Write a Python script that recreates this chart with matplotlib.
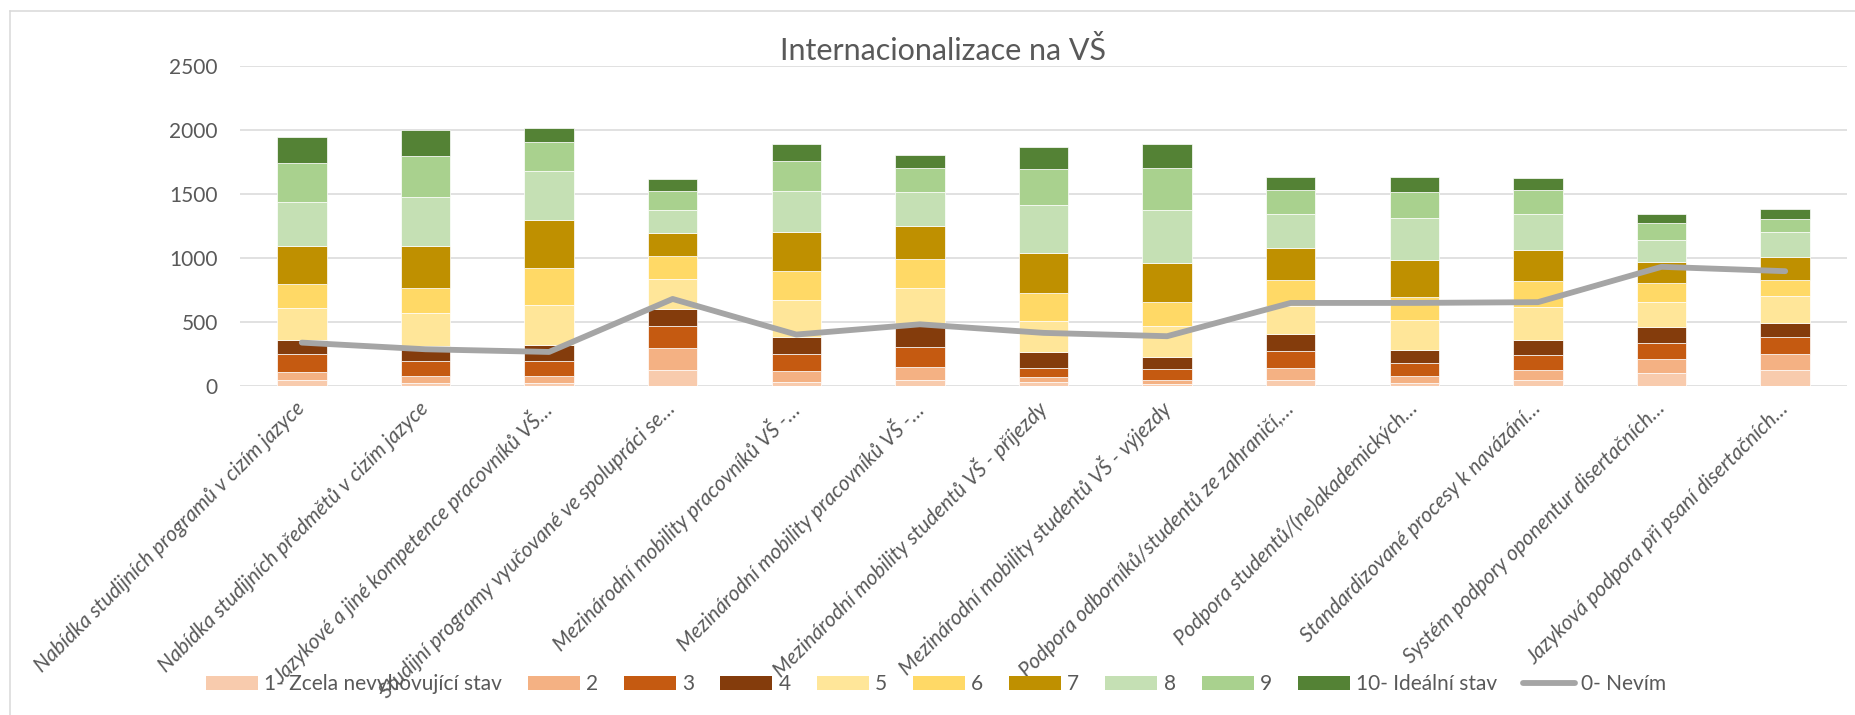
import numpy as np
import matplotlib
matplotlib.use("Agg")
import matplotlib.pyplot as plt
from matplotlib.lines import Line2D
from matplotlib.patches import Patch

plt.rcParams["font.family"] = ["Lato", "DejaVu Sans"]

# =========================
# DATA
# =========================
kategorie = [
    "Nabídka studijních programů v cizím jazyce",
    "Nabídka studijních předmětů v cizím jazyce",
    "Jazykové a jiné kompetence pracovníků VŠ…",
    "Studijní programy vyučované ve spolupráci se…",
    "Mezinárodní mobility pracovníků VŠ -…",
    "Mezinárodní mobility pracovníků VŠ -…",
    "Mezinárodní mobility studentů VŠ - příjezdy",
    "Mezinárodní mobility studentů VŠ - výjezdy",
    "Podpora odborníků/studentů ze zahraničí,…",
    "Podpora studentů/(ne)akademických…",
    "Standardizované procesy k navázání…",
    "Systém podpory oponentur disertačních…",
    "Jazyková podpora při psaní disertačních…",
]

hodnoceni_1 = [44, 23, 20, 123, 31, 44, 31, 18, 44, 23, 44, 102, 123]
hodnoceni_2 = [68, 53, 56, 174, 84, 102, 39, 29, 94, 55, 84, 109, 125]
hodnoceni_3 = [136, 117, 117, 175, 138, 159, 73, 83, 138, 105, 115, 128, 135]
hodnoceni_4 = [112, 120, 125, 133, 130, 183, 123, 97, 133, 101, 120, 125, 110]
hodnoceni_5 = [250, 256, 313, 230, 287, 276, 240, 240, 214, 230, 255, 191, 209]
hodnoceni_6 = [185, 193, 287, 177, 227, 227, 219, 188, 209, 182, 201, 146, 130]
hodnoceni_7 = [298, 331, 378, 182, 308, 261, 313, 305, 245, 287, 242, 167, 177]
hodnoceni_8 = [344, 383, 386, 180, 318, 261, 376, 414, 266, 326, 282, 172, 193]
hodnoceni_9 = [305, 318, 224, 151, 237, 187, 281, 329, 188, 209, 185, 130, 102]
hodnoceni_10 = [206, 204, 113, 91, 131, 105, 170, 190, 99, 112, 97, 76, 76]
nevim = [339, 287, 266, 680, 402, 482, 415, 389, 649, 649, 655, 931, 897]

serie = [
    hodnoceni_1, hodnoceni_2, hodnoceni_3, hodnoceni_4, hodnoceni_5,
    hodnoceni_6, hodnoceni_7, hodnoceni_8, hodnoceni_9, hodnoceni_10,
]
popisky = ["1- Zcela nevyhovující stav", "2", "3", "4", "5", "6", "7", "8", "9", "10- Ideální stav"]

colors = [
    "#F8CBAD", "#F4B183", "#C55A11", "#843C0C", "#FFE699",
    "#FFD966", "#BF9000", "#C5E0B4", "#A9D18E", "#548235",
]
text_color = "#595959"
grid_color = "#D9D9D9"

# =========================
# PLOT
# =========================
W, H = 1856, 715
fig = plt.figure(figsize=(W / 100, H / 100), dpi=100)
ax = fig.add_axes([240 / W, 1 - 386 / H, (1847 - 240) / W, (386 - 66) / H])

x = np.arange(len(kategorie))
bottom = np.zeros(len(kategorie))
for vals, c, lab in zip(serie, colors, popisky):
    ax.bar(x, vals, width=0.4, bottom=bottom, color=c, edgecolor="white",
           linewidth=0.5, label=lab, zorder=2)
    bottom += np.array(vals)

ax.plot(x, nevim, color="#A5A5A5", linewidth=4.2, solid_capstyle="round", zorder=3)

ax.set_xlim(-0.5, len(kategorie) - 0.5)
ax.set_ylim(0, 2500)
ax.set_yticks(np.arange(0, 2501, 500))
ax.yaxis.grid(True, color=grid_color, linewidth=1.1, zorder=0)
ax.set_axisbelow(True)
for s in ax.spines.values():
    s.set_visible(False)
ax.tick_params(axis="y", length=0, pad=16, labelsize=15, labelcolor=text_color)
ax.tick_params(axis="x", length=0, pad=14)

ax.set_xticks(x)
ax.set_xticklabels(kategorie, rotation=45, ha="right", va="center",
                   rotation_mode="anchor", fontsize=15, color=text_color,
                   style="italic")

# nadpis
fig.text(943 / W, 1 - 50 / H, "Internacionalizace na VŠ", ha="center", va="center",
         fontsize=22, color=text_color)

# legenda dole v jednom řádku
handles = [Patch(facecolor=c, edgecolor="none") for c in colors]
handles.append(Line2D([0], [0], color="#A5A5A5", linewidth=4.2, solid_capstyle="round"))
labels = popisky + ["0- Nevím"]
fig.legend(handles, labels, loc="center", bbox_to_anchor=(936 / W, 1 - 684 / H),
           ncol=11, frameon=False, fontsize=15, labelcolor=text_color,
           handlelength=2.5, handleheight=0.67, handletextpad=0.29,
           columnspacing=1.25, borderpad=0)

# rámeček grafu (levá a horní hrana)
fig.add_artist(Line2D([10.5 / W, 10.5 / W], [0, 1 - 10.5 / H], transform=fig.transFigure,
                      color=grid_color, linewidth=1.1))
fig.add_artist(Line2D([10.5 / W, 1], [1 - 10.5 / H, 1 - 10.5 / H], transform=fig.transFigure,
                      color=grid_color, linewidth=1.1))

fig.savefig("out.png", dpi=100, facecolor="white")
